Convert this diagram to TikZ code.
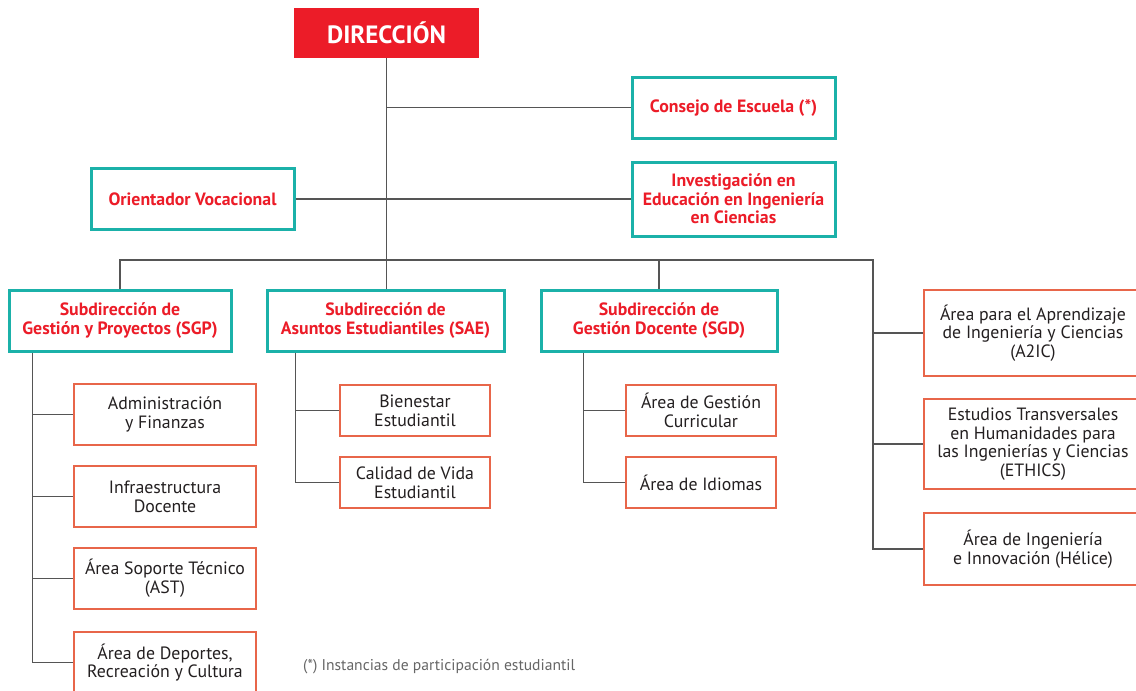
\documentclass[tikz,border=0pt]{standalone}
\usepackage{fontspec}
\setmainfont{PT Sans}
\definecolor{teal1}{HTML}{1BB1A9}
\definecolor{oran}{HTML}{E8664A}
\definecolor{redt}{HTML}{EC1C28}
\definecolor{lin}{HTML}{555555}
\definecolor{txt}{HTML}{231F20}
\definecolor{gr}{HTML}{666666}
\tikzset{
  tealbox/.style={draw=teal1, line width=3pt, inner sep=0pt, align=center, text=redt,
     font=\bfseries\fontsize{17.8}{18.5}\selectfont},
  orbox/.style={draw=oran, line width=2.5pt, inner sep=0pt, align=center, text=txt,
     font=\fontsize{17.8}{18.7}\selectfont},
  conn/.style={draw=lin, line width=1.4pt},
}
\begin{document}
\begin{tikzpicture}[x=1pt,y=-1pt]
\useasboundingbox (0,0) rectangle (1136,691);
\fill[white] (0,0) rectangle (1136,691);
% top
\node[fill=redt, minimum width=185pt, minimum height=50pt, inner sep=0pt, text=white,
  font=\bfseries\fontsize{25}{27}\selectfont] (dir) at (386.5,33) {DIRECCIÓN};
\node[tealbox, minimum width=203pt, minimum height=61pt] (cons) at (733.5,107.5) {Consejo de Escuela (*)};
\node[tealbox, minimum width=203pt, minimum height=74pt] (inv) at (733.5,199) {Investigación en\\Educación en Ingeniería\\en Ciencias};
\node[tealbox, minimum width=203pt, minimum height=61pt] (ori) at (192.5,199) {Orientador Vocacional};
% second level
\node[tealbox, minimum width=222pt, minimum height=61pt] (sgp) at (120,320.5) {Subdirección de\\Gestión y Proyectos (SGP)};
\node[tealbox, minimum width=237pt, minimum height=61pt] (sae) at (385.5,320.5) {Subdirección de\\Asuntos Estudiantiles (SAE)};
\node[tealbox, minimum width=236pt, minimum height=61pt] (sgd) at (659,320.5) {Subdirección de\\Gestión Docente (SGD)};
% right column
\node[orbox, minimum width=218pt, minimum height=86pt] (a2ic) at (1033,333) {Área para el Aprendizaje\\de Ingeniería y Ciencias\\(A2IC)};
\node[orbox, minimum width=218pt, minimum height=90pt] (eth) at (1033,444) {Estudios Transversales\\en Humanidades para\\las Ingenierías y Ciencias\\(ETHICS)};
\node[orbox, minimum width=218pt, minimum height=72pt] (hel) at (1033,549) {Área de Ingeniería\\e Innovación (Hélice)};
% SGP children
\node[orbox, minimum width=182pt, minimum height=61pt] (adm) at (165,414.5) {Administración\\y Finanzas};
\node[orbox, minimum width=182pt, minimum height=61pt] (inf) at (165,496.5) {Infraestructura\\Docente};
\node[orbox, minimum width=182pt, minimum height=61pt] (ast) at (165,578.5) {Área Soporte Técnico\\(AST)};
\node[orbox, minimum width=182pt, minimum height=61pt] (dep) at (165,662.5) {Área de Deportes,\\Recreación y Cultura};
% SAE children
\node[orbox, minimum width=150pt, minimum height=51pt] (bie) at (415,410.5) {Bienestar\\Estudiantil};
\node[orbox, minimum width=150pt, minimum height=51pt] (cal) at (415,482.5) {Calidad de Vida\\Estudiantil};
% SGD children
\node[orbox, minimum width=150pt, minimum height=51pt] (cur) at (701,410.5) {Área de Gestión\\Curricular};
\node[orbox, minimum width=150pt, minimum height=51pt] (idi) at (701,482.5) {Área de Idiomas};
% footnote
\node[anchor=west, inner sep=0pt, text=gr, font=\fontsize{15.6}{17}\selectfont] (fn) at (303,667) {(*) Instancias de participación estudiantil};
% connectors
\coordinate (busR) at (873,260);
\draw[conn] (dir.south) -- (dir.south |- sae.north);
\draw[conn] (dir.south |- cons.west) -- (cons.west);
\draw[conn] (ori.east) -- (inv.west);
\draw[conn] (sgp.north) |- (busR) |- (a2ic.west);
\draw[conn] (busR) |- (eth.west);
\draw[conn] (busR) |- (hel.west);
\draw[conn] (sgd.north) -- (sgd.north |- busR);
\coordinate (sgpb) at ([xshift=25pt]sgp.south west);
\draw[conn] (sgpb) |- (dep.west);
\draw[conn] (sgpb |- adm.west) -- (adm.west);
\draw[conn] (sgpb |- inf.west) -- (inf.west);
\draw[conn] (sgpb |- ast.west) -- (ast.west);
\coordinate (saeb) at ([xshift=30pt]sae.south west);
\draw[conn] (saeb) |- (cal.west);
\draw[conn] (saeb |- bie.west) -- (bie.west);
\coordinate (sgdb) at ([xshift=44pt]sgd.south west);
\draw[conn] (sgdb) |- (idi.west);
\draw[conn] (sgdb |- cur.west) -- (cur.west);
\end{tikzpicture}
\end{document}
